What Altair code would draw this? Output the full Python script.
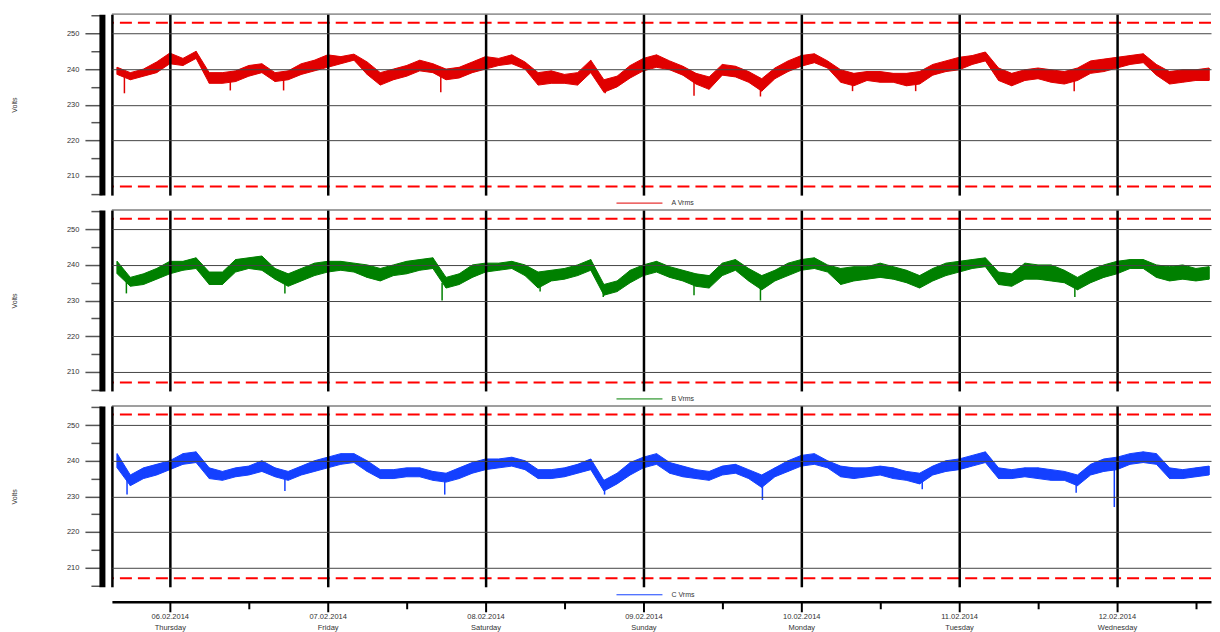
import altair as alt
import pandas as pd

# ---------------- data ----------------
hours = list(range(-8, 160, 2))  # hours after 06.02.2014 00:00

a_hi = [240.5, 239, 240, 242, 244.5, 243, 245, 239, 239, 239.5, 241, 241.5, 239, 239.5, 241.5, 242.5, 244, 243.5, 244.2, 242, 239,
        240, 241, 242.5, 241.5, 240, 240.5, 242, 243.5, 243, 244, 242, 239, 239.5, 238.5, 239, 242.5, 237, 238, 241, 243, 244,
        242.3, 240.8, 238.8, 237.8, 241.3, 240.8, 239.3, 237.3, 240.3, 242.3, 243.8, 244.3, 242.3, 239.8, 238.8, 239.3, 239.3,
        238.8, 238.8, 239.3, 241.3, 242.3, 243.3, 243.8, 244.8, 240.3, 238.8, 239.8, 240.3, 239.8, 239.3, 240.3, 242.3, 242.8,
        243.3, 243.8, 244.3, 241.3, 239.3, 239.8, 239.8, 240.3]
a_lo = [238.5, 237, 238, 239, 241.5, 241, 243, 236, 236, 236.5, 238, 239, 236.5, 237, 238.5, 239.5, 240.5, 241.5, 242.5, 238.5,
        235.5, 237, 238, 239.5, 239, 237, 237.5, 239, 240, 241, 241.5, 240, 235.5, 236, 236, 235.5, 239, 233.5, 235, 237.5, 239.5,
        240.5,
        239.8, 238.3, 235.8, 234.3, 238.3, 237.8, 236.3, 233.8, 237.3, 239.3, 240.8, 241.8, 240.3, 236.3, 235.3, 236.8, 236.3,
        236.3, 235.3, 235.8, 238.3, 239.3, 239.8, 241.3, 242.3, 236.8, 235.3, 236.8, 237.3, 236.3, 235.8, 236.8, 238.8, 239.3,
        240.3, 241.3, 241.8, 238.3, 235.8, 236.3, 236.8, 236.8]

b_hi = [241, 236.5, 237.5, 239, 241, 241, 242, 238, 238, 241.5, 242, 242.5, 239, 237.5, 239, 240.5, 241, 241, 240.5, 240, 239,
        240, 241, 241.5, 242, 236.5, 237.5, 240, 240.5, 240.5, 241, 240, 238, 238.5, 239, 240, 241.5, 234.5, 235.5, 238.5, 240, 241,
        239.5, 238.5, 237.5, 237, 240.5, 241.5, 239, 237, 238.5, 240.5, 241.5, 242, 240, 239, 239.5, 239.5, 240.5, 239.5, 238.5,
        237, 239, 240.5, 241, 241.5, 242, 238, 237.5, 240.5, 240, 240, 238.5, 236.5, 238.5, 240, 241, 241.5, 241.5, 240, 239.5,
        240, 239, 239.5]
b_lo = [237.5, 234, 234.5, 236, 237.5, 238.5, 239, 234.5, 234.5, 238, 239, 238.5, 236, 234, 235.5, 237, 238, 238.5, 238, 236.5,
        235.5, 237, 237.5, 238.5, 239, 233.5, 234.5, 236.5, 238, 238.5, 239, 237, 233.5, 235.5, 236, 237, 238.5, 231.5, 232.5, 235,
        237, 238,
        236.5, 235.5, 234, 233.5, 237, 238.5, 235.5, 233, 235.5, 237, 238.5, 239, 238, 234.5, 235.5, 236, 236.5, 236, 235, 233.5,
        235.5, 237, 238, 239, 239.5, 234.5, 234, 236, 236, 235.5, 235, 233, 235, 236.5, 237.5, 239, 239, 236.5, 235.5, 236, 235.5,
        236]

c_hi = [242, 236, 238, 239, 240, 242, 242.5, 238, 237, 238, 238.5, 240, 238, 237, 238.5, 240, 241, 242, 242, 240, 237.5, 237.5,
        238, 238, 237, 236.5, 238, 239.5, 240.5, 240.5, 241, 240, 237.5, 237.5, 238, 239, 240.5, 234.5, 236.5, 239.5, 241, 242,
        239.5, 238.5, 237.5, 237, 238.5, 239, 237.5, 236, 238, 240, 241.5, 242, 240, 238.5, 238, 238, 238.5, 238, 237, 236.5,
        238.5, 240, 240.5, 241.5, 242.5, 238, 237.5, 238, 238, 237.5, 237, 236, 239, 240.5, 241, 242, 242.5, 242, 238, 237.5, 238,
        238.5]
c_lo = [238, 233, 235, 236, 237.5, 239, 239.5, 235, 234.5, 235.5, 236, 237, 235.5, 234.5, 236, 237, 238, 239, 239.5, 237, 235,
        235, 235.5, 235.5, 234.5, 234, 235, 236.5, 237.5, 238, 238.5, 237.5, 235, 235, 235.5, 236.5, 237.5, 231.5, 233.5, 236, 238,
        239,
        236.5, 235.5, 235, 234.5, 236, 236.5, 235, 232.5, 235.5, 237, 238.5, 239, 238, 235.5, 235, 235.5, 236, 235, 234.5, 233.5,
        236, 237, 237.5, 238.5, 239.5, 235, 235, 235.5, 235, 234.5, 234.5, 233, 236, 237, 237.5, 239, 239.5, 239, 235, 235, 235.5,
        236]

# short dips (hour, low, high)
a_spike_h = [-6.9, 9.2, 17.3, 41.2, 66.2, 79.7, 89.8, 103.8, 113.4, 137.5]
a_spike_lo = [233.2, 234, 234, 233.5, 233.2, 232.5, 232.3, 233.8, 233.8, 233.8]
a_spike_hi = [238, 237, 237, 238, 236, 237, 236, 237, 237, 237]
b_spike_h = [-6.6, 17.5, 41.4, 56.3, 65.9, 79.7, 89.8, 137.6]
b_spike_lo = [232, 232, 230, 232.5, 231, 231.5, 230, 231]
b_spike_hi = [236, 235, 235, 236, 234, 236, 235, 235]
c_spike_h = [-6.5, 17.5, 41.8, 66.1, 90.1, 114.4, 137.8, 143.6]
c_spike_lo = [230.5, 231.5, 230.5, 230.5, 229, 232, 231, 227]
c_spike_hi = [235, 236, 235, 234, 235, 235, 235, 238]

series_names = ["A Vrms", "B Vrms", "C Vrms"]
series_colors = ["#e00000", "#008000", "#1440ff"]
limits = [253, 207]

date_labels = ["06.02.2014", "07.02.2014", "08.02.2014", "09.02.2014", "10.02.2014", "11.02.2014", "12.02.2014"]
weekday_labels = ["Thursday", "Friday", "Saturday", "Sunday", "Monday", "Tuesday", "Wednesday"]
day_ticks = [0, 24, 48, 72, 96, 120, 144]
half_day_ticks = [12, 36, 60, 84, 108, 132, 156]
y_ticks = list(range(205, 256, 5))
x_start, x_end = -8.8, 158.3
y_min, y_max = 204.6, 255.4

# ---------------- layout ----------------
W, H = 1100, 181
FONT = "Liberation Sans"
x_values = [x_start] + sorted(day_ticks + half_day_ticks)


def js_list(items):
    return "[" + ",".join("'" + s + "'" for s in items) + "]"


def x_axis(last):
    grid_op = {"condition": {"test": "datum.value < 0 || datum.value % 24 === 0", "value": 1}, "value": 0}
    common = dict(values=x_values, tickCount=60, grid=True, gridColor="#000000", gridWidth=2.5,
                  gridOpacity=grid_op, title=None, zindex=1)
    if not last:
        return alt.Axis(labels=False, ticks=False, domain=False, **common)
    label_expr = ("datum.value >= 0 && datum.value % 24 === 0 ? ["
                  + js_list(date_labels) + "[datum.value / 24], "
                  + js_list(weekday_labels) + "[datum.value / 24]] : ''")
    return alt.Axis(domain=True, domainColor="#000000", domainWidth=2.5, offset=15,
                    ticks=True, tickColor="#000000", tickWidth=2,
                    tickSize={"condition": {"test": "datum.value % 24 === 0", "value": 10}, "value": 7},
                    tickOpacity={"condition": {"test": "datum.value < 0", "value": 0}, "value": 1},
                    labelExpr=label_expr, labelFont=FONT, labelFontSize=7.5, labelColor="#333333",
                    labelPadding=1, labelLineHeight=10.5, labelOverlap=False, labelFlush=False,
                    labelBaseline="top", **common)


y_axis = alt.Axis(values=y_ticks, tickCount=40, orient="left", offset=10, domain=True, domainColor="#000000",
                  domainWidth=6, ticks=True, tickColor="#555555", tickWidth=1.5,
                  tickSize={"condition": {"test": "datum.value % 10 === 0", "value": 17}, "value": 11},
                  labelExpr="datum.value % 10 === 0 ? datum.label : ''", labelFont=FONT, labelFontSize=7.5,
                  labelColor="#333333", labelPadding=6, labelOverlap=False,
                  grid=True, gridColor="#444444", gridWidth=1,
                  gridOpacity={"condition": {"test": "datum.value % 10 === 0", "value": 1}, "value": 0},
                  title="Volts", titleFont=FONT, titleFontSize=7, titleFontWeight="normal", titleColor="#333333",
                  titleX=-87, titleY=H / 2, titleBaseline="middle", titleAlign="center", titleAngle=270,
                  zindex=1)


def panel(idx, lo, hi, sp_h, sp_lo, sp_hi, last):
    color = series_colors[idx]
    xs = alt.Scale(domain=[x_start, x_end], nice=False, zero=False)
    ys = alt.Scale(domain=[y_min, y_max], nice=False, zero=False)
    df = pd.DataFrame({"h": hours, "lo": lo, "hi": hi})
    band = alt.Chart(df).mark_area(color=color, opacity=1, stroke=color, strokeWidth=1,
                                   interpolate="linear").encode(
        x=alt.X("h:Q", scale=xs, axis=x_axis(last)),
        y=alt.Y("hi:Q", scale=ys, axis=y_axis),
        y2="lo:Q",
    )
    ticks = alt.Chart(df).mark_rule(color=color, strokeWidth=1.2).encode(
        x=alt.X("h:Q", scale=xs), y=alt.Y("lo:Q", scale=ys), y2="hi:Q")
    sdf = pd.DataFrame({"h": sp_h, "lo": sp_lo, "hi": sp_hi})
    spikes = alt.Chart(sdf).mark_rule(color=color, strokeWidth=1.5).encode(
        x=alt.X("h:Q", scale=xs), y=alt.Y("lo:Q", scale=ys), y2="hi:Q")
    ldf = pd.DataFrame({"v": limits})
    lim = alt.Chart(ldf).mark_rule(color="#ff0000", strokeWidth=2, strokeDash=[12, 6]).encode(
        y=alt.Y("v:Q", scale=ys))
    top = alt.Chart(ldf).mark_rule(color="#999999", strokeWidth=1.5).encode(
        y=alt.datum(y_max, scale=ys))
    ndf = pd.DataFrame({"name": [series_names[idx]]})
    leg_line = alt.Chart(ndf).mark_rule(color=color, strokeWidth=1).encode(
        x=alt.value(505), x2=alt.value(551), y=alt.value(H + 8))
    leg_text = alt.Chart(ndf).mark_text(align="left", baseline="middle", font=FONT, fontSize=7,
                                        color="#333333").encode(
        x=alt.value(560), y=alt.value(H + 8), text="name:N")
    return alt.layer(band, ticks, spikes, lim, top, leg_line, leg_text).properties(width=W, height=H)


p1 = panel(0, a_lo, a_hi, a_spike_h, a_spike_lo, a_spike_hi, False)
p2 = panel(1, b_lo, b_hi, b_spike_h, b_spike_lo, b_spike_hi, False)
p3 = panel(2, c_lo, c_hi, c_spike_h, c_spike_lo, c_spike_hi, True)

chart = alt.vconcat(p1, p2, p3, spacing=15, bounds="flush").properties(
    padding={"left": 3, "top": 3, "right": 0, "bottom": 5},
    background="white",
).configure_view(stroke=None)

chart.save("out.html", embed_options={"renderer": "svg", "actions": False})
